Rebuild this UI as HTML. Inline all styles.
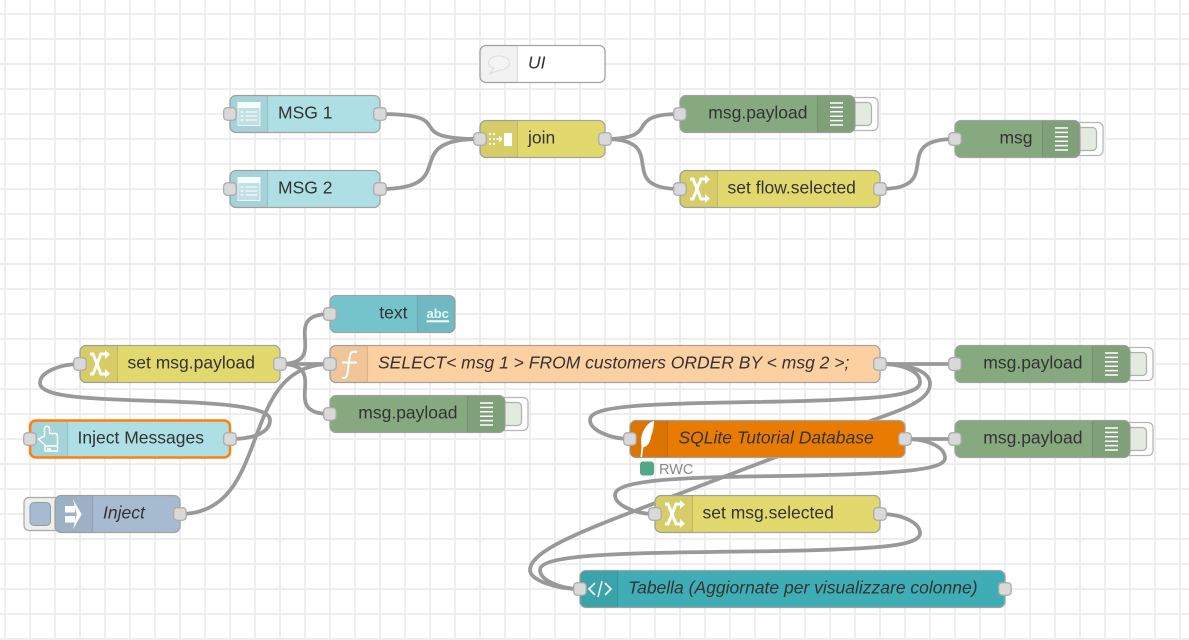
<!DOCTYPE html>
<html>
<head>
<meta charset="utf-8">
<style>
html,body{margin:0;padding:0;background:#fff}
svg{display:block}
text{font-family:"Liberation Sans",sans-serif;font-size:17.5px;fill:#333}
.i{font-style:italic}
.e{text-anchor:end}
.w{fill:none;stroke:#999;stroke-width:3.75}
.n{stroke:#a3a3a3;stroke-width:1.25}
.p{fill:#d9d9d9;stroke:#aaa;stroke-width:1.25}
.b{fill:rgba(0,0,0,.05)}
.l{stroke:rgba(0,0,0,.1);stroke-width:1.25}
.btnO{fill:#fff;stroke:#b5b5b5;stroke-width:1.25}
.btnI{fill:#e3eae0;stroke:#b0b0b0;stroke-width:1.25}
</style>
</head>
<body>
<svg width="1189" height="640" viewBox="0 0 1189 640" xmlns="http://www.w3.org/2000/svg">
<defs>
<pattern id="g" x="0" y="0" width="25" height="25" patternUnits="userSpaceOnUse">
<rect x="4" y="0" width="2" height="25" fill="#eee"/>
<rect x="0" y="13" width="25" height="2" fill="#eee"/>
</pattern>
<g id="sw"><path d="M-8,-10 H-5 L3,10 H8 M-8,10 H-5 L3,-10 H8" fill="none" stroke="#fff" stroke-width="3"/><path d="M7,-14 L12,-9.500 L7,-5 Z M7,5 L12,9.500 L7,14 Z" fill="#fff"/></g>
<g id="dbg"><path d="M-6.500,-11H6.500M-6.500,-6.600H6.500M-6.500,-2.200H6.500M-6.500,2.200H6.500M-6.500,6.600H6.500M-6.500,11H6.500" stroke="#fff" stroke-width="1.500" fill="none"/></g>
<g id="ui"><rect x="-10.500" y="-11.500" width="22" height="23" fill="rgba(255,255,255,.3)" stroke="rgba(255,255,255,.7)" stroke-width="1"/><rect x="-11" y="-12" width="23" height="6" fill="#fff" opacity=".85"/><path d="M-8,-2H-5M-3,-2H8.500M-8,2H-5M-3,2H8.500M-8,6H-5M-3,6H8.500" stroke="#fff" stroke-width="1.200" fill="none" opacity=".85"/></g>
</defs>
<rect width="1189" height="640" fill="#fff"/>
<rect width="1189" height="640" fill="url(#g)"/>

<!-- wires -->
<path class="w" d="M380,114 C464,114 396,139 480,139"/>
<path class="w" d="M380,189 C464,189 396,139 480,139"/>
<path class="w" d="M605,139 C664,139 621,114 680,114"/>
<path class="w" d="M605,139 C673,139 612,189 680,189"/>
<path class="w" d="M880,189 C948,189 887,139 955,139"/>
<path class="w" d="M280,364 C333,364 277,314 330,314"/>
<path class="w" d="M280,364 L330,364"/>
<path class="w" d="M280,364 C333,364 277,414 330,414"/>
<path class="w" d="M230,439 C255,439 270,432 270,420 C270,408 230,403 155,401 C90,399 40,397 40,383 C40,372 60,364 80,364"/>
<path class="w" d="M180,514 C274,514 236,364 330,364"/>
<path class="w" d="M880,364 L955,364"/>
<path class="w" d="M905,439 L955,439"/>
<path class="w" d="M880,364 C905,364 920,372 920,382 C920,396 880,400 755,402 C650,404 590,405 590,420 C590,430 610,439 630,439"/>
<path class="w" d="M880,364 C912,364 930,372 930,384 C930,402 895,412 873,420 L650,505 C590,528 530,550 530,570 C530,580 555,589 580,589"/>
<path class="w" d="M905,439 C930,439 945,448 945,458 C945,470 900,474 780,476 C680,477 615,480 615,495 C615,505 635,514 655,514"/>
<path class="w" d="M880,514 C905,514 920,524 920,533 C920,546 880,549 780,551 C650,553 540,552 540,570 C540,580 560,589 580,589"/>

<!-- UI comment -->
<rect class="n" x="480" y="45.500" width="125" height="37" rx="6" fill="#fff"/>
<path class="b" d="M486,45.500H517.500V82.500H486a6,6 0 0 1-6-6V51.500a6,6 0 0 1 6-6Z"/>
<line class="l" x1="517.500" y1="46" x2="517.500" y2="82"/>
<path d="M494,68.500 L489.500,74 L499,70 C505,70 509.500,67 509.500,63 C509.500,59 505,56 499,56 C493,56 488.500,59 488.500,63 C488.500,65.500 490.500,67.500 494,68.500Z" fill="#f4f4f4" stroke="#ddd" stroke-width="1"/>
<text class="i" x="528" y="68.500">UI</text>

<!-- MSG 1 -->
<rect class="n" x="230" y="95.500" width="150" height="37" rx="6" fill="#aedfe4"/>
<path class="b" d="M236,95.500H267.500V132.500H236a6,6 0 0 1-6-6V101.500a6,6 0 0 1 6-6Z"/>
<line class="l" x1="267.500" y1="96" x2="267.500" y2="132"/>
<use href="#ui" x="248.500" y="114"/>
<text x="278" y="118.500">MSG 1</text>
<rect class="p" x="223.700" y="107.700" width="12.500" height="12.500" rx="3.500"/>
<rect class="p" x="373.700" y="107.700" width="12.500" height="12.500" rx="3.500"/>

<!-- MSG 2 -->
<rect class="n" x="230" y="170.500" width="150" height="37" rx="6" fill="#aedfe4"/>
<path class="b" d="M236,170.500H267.500V207.500H236a6,6 0 0 1-6-6V176.500a6,6 0 0 1 6-6Z"/>
<line class="l" x1="267.500" y1="171" x2="267.500" y2="207"/>
<use href="#ui" x="248.500" y="189"/>
<text x="278" y="193.500">MSG 2</text>
<rect class="p" x="223.700" y="182.700" width="12.500" height="12.500" rx="3.500"/>
<rect class="p" x="373.700" y="182.700" width="12.500" height="12.500" rx="3.500"/>

<!-- join -->
<rect class="n" x="480" y="120.500" width="125" height="37" rx="6" fill="#e2d96e"/>
<path class="b" d="M486,120.500H517.500V157.500H486a6,6 0 0 1-6-6V126.500a6,6 0 0 1 6-6Z"/>
<line class="l" x1="517.500" y1="121" x2="517.500" y2="157"/>
<path d="M489,133h2v2h-2zM493,133h2v2h-2zM489,138h2v2h-2zM493,138h2v2h-2zM496.500,138h2v2h-2zM489,143h2v2h-2zM493,143h2v2h-2zM499,135.500l3.500,3.500-3.500,3.500z" fill="#fff"/>
<rect x="504" y="133" width="8" height="13" fill="#fff"/>
<text x="528" y="143.500">join</text>
<rect class="p" x="473.700" y="132.700" width="12.500" height="12.500" rx="3.500"/>
<rect class="p" x="598.700" y="132.700" width="12.500" height="12.500" rx="3.500"/>

<!-- debug top -->
<rect class="btnO" x="850" y="97.500" width="28" height="33" rx="5"/>
<rect class="btnI" x="850" y="102.500" width="21.500" height="23" rx="4"/>
<rect class="n" x="680" y="95.500" width="175" height="37" rx="6" fill="#87a980"/>
<path class="b" d="M849,95.500H817.500V132.500H849a6,6 0 0 0 6-6V101.500a6,6 0 0 0-6-6Z"/>
<line class="l" x1="817.500" y1="96" x2="817.500" y2="132"/>
<use href="#dbg" x="836.500" y="114"/>
<text class="e" x="807.500" y="118.500">msg.payload</text>
<rect class="p" x="673.700" y="107.700" width="12.500" height="12.500" rx="3.500"/>

<!-- set flow.selected -->
<rect class="n" x="680" y="170.500" width="200" height="37" rx="6" fill="#e2d96e"/>
<path class="b" d="M686,170.500H717.500V207.500H686a6,6 0 0 1-6-6V176.500a6,6 0 0 1 6-6Z"/>
<line class="l" x1="717.500" y1="171" x2="717.500" y2="207"/>
<use href="#sw" x="698" y="189"/>
<text x="727.500" y="193.500">set flow.selected</text>
<rect class="p" x="673.700" y="182.700" width="12.500" height="12.500" rx="3.500"/>
<rect class="p" x="873.700" y="182.700" width="12.500" height="12.500" rx="3.500"/>

<!-- msg -->
<rect class="btnO" x="1075" y="122.500" width="28" height="33" rx="5"/>
<rect class="btnI" x="1075" y="127.500" width="21.500" height="23" rx="4"/>
<rect class="n" x="955" y="120.500" width="125" height="37" rx="6" fill="#87a980"/>
<path class="b" d="M1074,120.500H1042.500V157.500H1074a6,6 0 0 0 6-6V126.500a6,6 0 0 0-6-6Z"/>
<line class="l" x1="1042.500" y1="121" x2="1042.500" y2="157"/>
<use href="#dbg" x="1061.500" y="139"/>
<text class="e" x="1032.500" y="143.500">msg</text>
<rect class="p" x="948.700" y="132.700" width="12.500" height="12.500" rx="3.500"/>

<!-- text -->
<rect class="n" x="330" y="295.500" width="125" height="37" rx="6" fill="#75c4cb"/>
<path class="b" d="M449,295.500H417.500V332.500H449a6,6 0 0 0 6-6V301.500a6,6 0 0 0-6-6Z"/>
<line class="l" x1="417.500" y1="296" x2="417.500" y2="332"/>
<text x="426.500" y="318" style="font-size:13px;font-weight:bold;fill:#e8f5f6">abc</text>
<rect x="426.500" y="320.300" width="22.500" height="2" fill="#fff"/>
<text class="e" x="407.500" y="318.500">text</text>
<rect class="p" x="323.700" y="307.700" width="12.500" height="12.500" rx="3.500"/>

<!-- set msg.payload -->
<rect class="n" x="80" y="345.500" width="200" height="37" rx="6" fill="#e2d96e"/>
<path class="b" d="M86,345.500H117.500V382.500H86a6,6 0 0 1-6-6V351.500a6,6 0 0 1 6-6Z"/>
<line class="l" x1="117.500" y1="346" x2="117.500" y2="382"/>
<use href="#sw" x="98" y="364"/>
<text x="127.500" y="368.500">set msg.payload</text>
<rect class="p" x="73.700" y="357.700" width="12.500" height="12.500" rx="3.500"/>
<rect class="p" x="273.700" y="357.700" width="12.500" height="12.500" rx="3.500"/>

<!-- SELECT -->
<rect class="n" x="330" y="345.500" width="550" height="37" rx="6" fill="#fdd0a2"/>
<path class="b" d="M336,345.500H367.500V382.500H336a6,6 0 0 1-6-6V351.500a6,6 0 0 1 6-6Z"/>
<line class="l" x1="367.500" y1="346" x2="367.500" y2="382"/>
<path d="M357,352 C352,350.500 350,353 349.500,358 L347.500,373 C347,378 344,378.500 342,377.500 M342,362.500H357" fill="none" stroke="#fff" stroke-width="2"/>
<text class="i" x="378" y="368.500">SELECT&lt; msg 1 &gt; FROM customers ORDER BY &lt; msg 2 &gt;;</text>
<rect class="p" x="323.700" y="357.700" width="12.500" height="12.500" rx="3.500"/>
<rect class="p" x="873.700" y="357.700" width="12.500" height="12.500" rx="3.500"/>

<!-- debug mid-left -->
<rect class="btnO" x="500" y="397.500" width="28" height="33" rx="5"/>
<rect class="btnI" x="500" y="402.500" width="21.500" height="23" rx="4"/>
<rect class="n" x="330" y="395.500" width="175" height="37" rx="6" fill="#87a980"/>
<path class="b" d="M499,395.500H467.500V432.500H499a6,6 0 0 0 6-6V401.500a6,6 0 0 0-6-6Z"/>
<line class="l" x1="467.500" y1="396" x2="467.500" y2="432"/>
<use href="#dbg" x="486.500" y="414"/>
<text class="e" x="457.500" y="418.500">msg.payload</text>
<rect class="p" x="323.700" y="407.700" width="12.500" height="12.500" rx="3.500"/>

<!-- Inject Messages -->
<rect x="30" y="420.500" width="200" height="37" rx="6" fill="#aedfe4" stroke="#ff7f0e" stroke-width="2.500"/>
<path class="b" d="M36,421.500H67.500V456.500H36a5,5 0 0 1-5-5V426.500a5,5 0 0 1 5-5Z"/>
<line class="l" x1="67.500" y1="422" x2="67.500" y2="456"/>
<path d="M44.500,436 V428.500 C44.500,425.500 49.500,425.500 49.500,428.500 V433.500 H55 C57,433.500 57.500,435 57.500,437 V451 H45 V445 L38.500,439 L44.500,436 Z M45,446 H57.500 M47,449 H51" fill="none" stroke="#fff" stroke-width="1.400"/>
<text x="77.500" y="443.500">Inject Messages</text>
<rect class="p" x="23.700" y="432.700" width="12.500" height="12.500" rx="3.500"/>
<rect class="p" x="223.700" y="432.700" width="12.500" height="12.500" rx="3.500"/>

<!-- Inject -->
<rect x="24" y="497.500" width="37" height="33" rx="5" fill="#eee" stroke="#aaa" stroke-width="1.250"/>
<rect x="30" y="502.500" width="20.500" height="23" rx="4" fill="#a6bbcf" stroke="#999" stroke-width="1"/>
<rect class="n" x="55" y="495.500" width="125" height="37" rx="6" fill="#a6bbcf"/>
<path class="b" d="M61,495.500H92.500V532.500H61a6,6 0 0 1-6-6V501.500a6,6 0 0 1 6-6Z"/>
<line class="l" x1="92.500" y1="496" x2="92.500" y2="532"/>
<path d="M65,506h10v6.500h-10zM65,516h10v6.500h-10zM73,499.500l8.700,14.700-8.700,15 3.700,-15z" fill="#fff"/>
<text class="i" x="103" y="518.500">Inject</text>
<rect class="p" x="173.700" y="507.700" width="12.500" height="12.500" rx="3.500"/>

<!-- SQLite -->
<rect class="n" x="630" y="420.500" width="275" height="37" rx="6" fill="#e97b00"/>
<path class="b" d="M636,420.500H667.500V457.500H636a6,6 0 0 1-6-6V426.500a6,6 0 0 1 6-6Z"/>
<line class="l" x1="667.500" y1="421" x2="667.500" y2="457"/>
<path d="M654,421 C648,422 642,430 641,440 L641.500,447 L640.500,457 H642 L643.500,447 C648,447 651,440 651,436 C653,432 654,425 654,421Z" fill="#fff"/>
<text class="i" x="678.500" y="443.500">SQLite Tutorial Database</text>
<rect class="p" x="623.700" y="432.700" width="12.500" height="12.500" rx="3.500"/>
<rect class="p" x="898.700" y="432.700" width="12.500" height="12.500" rx="3.500"/>
<rect x="640" y="461.500" width="14" height="14" rx="3" fill="#4fa987"/>
<text x="659" y="474" style="font-size:14.500px;fill:#888">RWC</text>

<!-- debug right -->
<rect class="btnO" x="1125" y="347.500" width="28" height="33" rx="5"/>
<rect class="btnI" x="1125" y="352.500" width="21.500" height="23" rx="4"/>
<rect class="n" x="955" y="345.500" width="175" height="37" rx="6" fill="#87a980"/>
<path class="b" d="M1124,345.500H1092.500V382.500H1124a6,6 0 0 0 6-6V351.500a6,6 0 0 0-6-6Z"/>
<line class="l" x1="1092.500" y1="346" x2="1092.500" y2="382"/>
<use href="#dbg" x="1111.500" y="364"/>
<text class="e" x="1082.500" y="368.500">msg.payload</text>
<rect class="p" x="948.700" y="357.700" width="12.500" height="12.500" rx="3.500"/>

<rect class="btnO" x="1125" y="422.500" width="28" height="33" rx="5"/>
<rect class="btnI" x="1125" y="427.500" width="21.500" height="23" rx="4"/>
<rect class="n" x="955" y="420.500" width="175" height="37" rx="6" fill="#87a980"/>
<path class="b" d="M1124,420.500H1092.500V457.500H1124a6,6 0 0 0 6-6V426.500a6,6 0 0 0-6-6Z"/>
<line class="l" x1="1092.500" y1="421" x2="1092.500" y2="457"/>
<use href="#dbg" x="1111.500" y="439"/>
<text class="e" x="1082.500" y="443.500">msg.payload</text>
<rect class="p" x="948.700" y="432.700" width="12.500" height="12.500" rx="3.500"/>

<!-- set msg.selected -->
<rect class="n" x="655" y="495.500" width="225" height="37" rx="6" fill="#e2d96e"/>
<path class="b" d="M661,495.500H692.500V532.500H661a6,6 0 0 1-6-6V501.500a6,6 0 0 1 6-6Z"/>
<line class="l" x1="692.500" y1="496" x2="692.500" y2="532"/>
<use href="#sw" x="673" y="514"/>
<text x="702.500" y="518.500">set msg.selected</text>
<rect class="p" x="648.700" y="507.700" width="12.500" height="12.500" rx="3.500"/>
<rect class="p" x="873.700" y="507.700" width="12.500" height="12.500" rx="3.500"/>

<!-- Tabella -->
<rect class="n" x="580" y="570.500" width="425" height="37" rx="6" fill="#3fadb5"/>
<path class="b" d="M586,570.500H617.500V607.500H586a6,6 0 0 1-6-6V576.500a6,6 0 0 1 6-6Z"/>
<line class="l" x1="617.500" y1="571" x2="617.500" y2="607"/>
<path d="M595,583l-6,6 6,6M605,583l6,6-6,6" fill="none" stroke="#fff" stroke-width="1.600"/>
<path d="M602,581l-4,16" fill="none" stroke="#fff" stroke-width="1.400"/>
<text class="i" x="628" y="593.500">Tabella (Aggiornate per visualizzare colonne)</text>
<rect class="p" x="573.700" y="582.700" width="12.500" height="12.500" rx="3.500"/>
<rect class="p" x="998.700" y="582.700" width="12.500" height="12.500" rx="3.500"/>
</svg>
</body>
</html>
